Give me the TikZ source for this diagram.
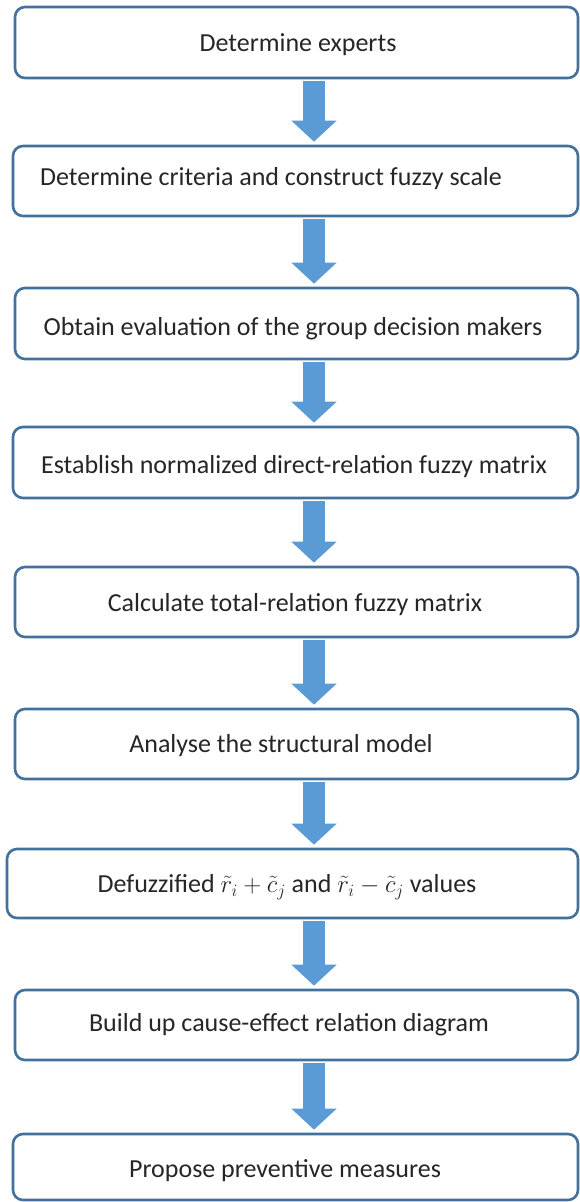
\documentclass[tikz,border=0pt]{standalone}
\usepackage{fontspec}
\setmainfont{Carlito}
\usetikzlibrary{arrows.meta}
\definecolor{boxline}{HTML}{41719C}
\definecolor{arrowfill}{HTML}{5B9BD5}
\tikzset{
  stepbox/.style={draw=boxline, line width=2.6pt, fill=white, rounded corners=10pt, inner sep=0pt},
  lbl/.style={font=\fontsize{26}{30}\selectfont, inner sep=0pt, text height=17pt, text depth=0pt, text=black!85},
  flow/.style={draw=arrowfill, line width=22pt, -{Triangle[length=21pt,width=44pt]}, shorten >=3pt, shorten <=1.5pt}
}
\newcommand{\mkbox}[5]{% name, x1, y1, x2, y2
  \node[stepbox, minimum width={(#4-#2)*1pt}, minimum height={(#5-#3)*1pt}] (#1) at ({(#2+#4)/2},{(#3+#5)/2}) {};}
\begin{document}
\begin{tikzpicture}[x=1pt,y=-1pt]
\useasboundingbox (0,0) rectangle (580,1202);
\coordinate (ax) at (314,0);
\mkbox{b1}{15}{7}{578}{78}
\mkbox{b2}{13}{146}{578}{216}
\mkbox{b3}{15}{288}{578}{359}
\mkbox{b4}{13}{427}{578}{498}
\mkbox{b5}{15}{567}{578}{637}
\mkbox{b6}{15}{709}{578}{779}
\mkbox{b7}{7}{849}{578}{918}
\mkbox{b8}{15}{990}{578}{1060}
\mkbox{b9}{13}{1134}{578}{1200}
\node[lbl] (t1) at (298,43) {Determine experts};
\node[lbl] (t2) at (271,177) {Determine criteria and construct fuzzy scale};
\node[lbl] (t3) at (293,327) {Obtain evaluation of the group decision makers};
\node[lbl] (t4) at (294,465) {Establish normalized direct-relation fuzzy matrix};
\node[lbl] (t5) at (295,603) {Calculate total-relation fuzzy matrix};
\node[lbl] (t6) at (281,744) {Analyse the structural model};
\node[lbl] (t7) at (287,884) {Defuzzified $\tilde{r}_i+\tilde{c}_j$ and $\tilde{r}_i-\tilde{c}_j$ values};
\node[lbl] (t8) at (289,1023) {Build up cause-effect relation diagram};
\node[lbl] (t9) at (285,1169) {Propose preventive measures};
\foreach \a/\b in {b1/b2,b2/b3,b3/b4,b4/b5,b5/b6,b6/b7,b7/b8,b8/b9}
  \draw[flow] (\a.south -| ax) -- (\b.north -| ax);
\end{tikzpicture}
\end{document}
